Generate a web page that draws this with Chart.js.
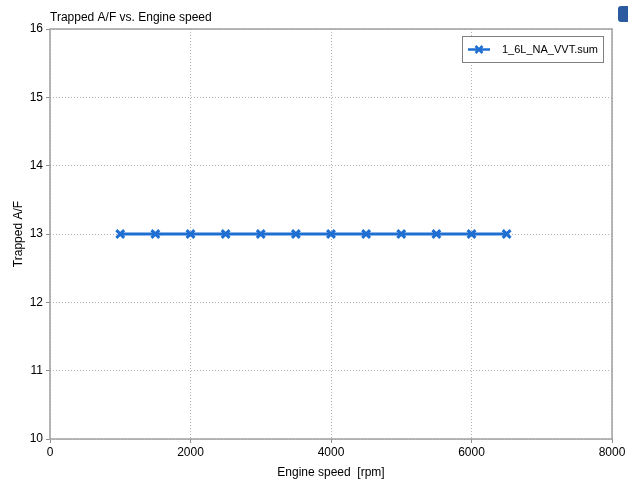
<!DOCTYPE html>
<html>
<head>
<meta charset="utf-8">
<script src="https://cdn.jsdelivr.net/npm/chart.js@4"></script>
<style>
  html, body { margin: 0; padding: 0; background: #fff; }
  #wrap { width: 628px; height: 480px; position: relative; }
</style>
</head>
<body>
<div id="wrap"><canvas id="afChart" width="628" height="480"></canvas></div>
<script>
// Data
const engineSpeed = [1000, 1500, 2000, 2500, 3000, 3500, 4000, 4500, 5000, 5500, 6000, 6500];
const trappedAF = [13, 13, 13, 13, 13, 13, 13, 13, 13, 13, 13, 13];
const seriesName = "1_6L_NA_VVT.sum";
const xTicks = [0, 2000, 4000, 6000, 8000];
const yTicks = [10, 11, 12, 13, 14, 15, 16];

const FONT = "'Liberation Sans', Arial, sans-serif";
const LINE_COLOR = "#1f6fd3";

// Frame, title, legend box and the little tab in the corner
const decorPlugin = {
  id: "decor",
  afterDraw(chart) {
    const c = chart.ctx;
    const a = chart.chartArea;
    c.save();
    // plot frame
    c.strokeStyle = "#a0a0a0";
    c.lineWidth = 1.5;
    c.strokeRect(a.left, a.top, a.right - a.left, a.bottom - a.top);

    // title
    c.fillStyle = "#000";
    c.font = "12px " + FONT;
    c.textBaseline = "middle";
    c.textAlign = "left";
    c.fillText("Trapped A/F vs. Engine speed", a.left, 18);

    // legend box
    const bx = 462, by = 36, bw = 141, bh = 26;
    c.fillStyle = "#fff";
    c.fillRect(bx, by, bw, bh);
    c.strokeStyle = "#808080";
    c.lineWidth = 1;
    c.strokeRect(bx + 0.5, by + 0.5, bw, bh);
    const ly = by + bh / 2 + 0.5;
    c.strokeStyle = LINE_COLOR;
    c.lineWidth = 2.5;
    c.beginPath();
    c.moveTo(bx + 6, ly);
    c.lineTo(bx + 28, ly);
    c.stroke();
    c.lineWidth = 2.5;
    c.beginPath();
    c.moveTo(bx + 13.5, ly - 3.5); c.lineTo(bx + 20.5, ly + 3.5);
    c.moveTo(bx + 13.5, ly + 3.5); c.lineTo(bx + 20.5, ly - 3.5);
    c.stroke();
    c.fillStyle = "#000";
    c.font = "11px " + FONT;
    c.fillText(seriesName, bx + 40, ly);

    // corner tab
    c.fillStyle = "#2b5aa0";
    c.beginPath();
    c.roundRect(618, 6, 14, 16, 3);
    c.fill();
    c.restore();
  }
};

const gridOpts = {
  color: "#b0b0b0",
  tickColor: "#909090",
  tickBorderDash: [],
  tickLength: 4,
};

const ctx = document.getElementById("afChart").getContext("2d");
const afChart = new Chart(ctx, {
  type: "line",
  data: {
    datasets: [
      {
        label: seriesName,
        data: engineSpeed.map((x, i) => ({ x: x, y: trappedAF[i] })),
        borderColor: LINE_COLOR,
        backgroundColor: LINE_COLOR,
        borderWidth: 3,
        pointStyle: "crossRot",
        pointRadius: 5.5,
        pointBorderWidth: 3,
        pointHoverRadius: 5.5,
        tension: 0,
      },
    ],
  },
  options: {
    responsive: false,
    animation: false,
    devicePixelRatio: 1,
    layout: { padding: { left: 0, right: 16, top: 29, bottom: 0 } },
    plugins: {
      legend: { display: false },
      title: { display: false },
      tooltip: { enabled: false },
    },
    scales: {
      x: {
        type: "linear",
        min: 0,
        max: 8000,
        afterBuildTicks: (axis) => { axis.ticks = xTicks.map((v) => ({ value: v })); },
        afterFit: (axis) => { axis.height = 41; },
        grid: gridOpts,
        border: { display: false, dash: [1, 2] },
        ticks: {
          color: "#000",
          font: { family: FONT, size: 12 },
          padding: 2,
          maxRotation: 0,
          autoSkip: false,
          callback: (v) => String(v),
        },
        title: {
          display: true,
          text: "Engine speed  [rpm]",
          color: "#000",
          font: { family: FONT, size: 12 },
          padding: { top: 4, bottom: 0 },
        },
      },
      y: {
        min: 10,
        max: 16,
        afterBuildTicks: (axis) => { axis.ticks = yTicks.map((v) => ({ value: v })); },
        afterFit: (axis) => { axis.width = 50; },
        grid: gridOpts,
        border: { display: false, dash: [1, 2] },
        ticks: {
          color: "#000",
          font: { family: FONT, size: 12 },
          padding: 3,
          autoSkip: false,
          callback: (v) => String(v),
        },
        title: {
          display: true,
          text: "Trapped A/F",
          color: "#000",
          font: { family: FONT, size: 12 },
          padding: { top: 11, bottom: 0 },
        },
      },
    },
  },
  plugins: [decorPlugin],
});
</script>
</body>
</html>
